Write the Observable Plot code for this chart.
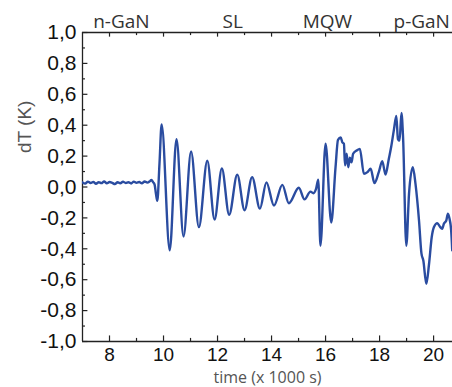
<!DOCTYPE html>
<html>
<head>
<meta charset="utf-8">
<script src="https://cdn.jsdelivr.net/npm/d3@7"></script>
<script src="https://cdn.jsdelivr.net/npm/@observablehq/plot@0.6"></script>
<style>
  html, body { margin: 0; padding: 0; background: #fff; }
  #chart svg { display: block; }
</style>
</head>
<body>
<div id="chart"></div>
<script>
// time in units of 1000 s
const times = [
  7.0, 7.1, 7.2, 7.3, 7.4, 7.5, 7.6, 7.7, 7.8, 7.9,
  8.0, 8.1, 8.2, 8.3, 8.4, 8.5, 8.6, 8.7, 8.8, 8.9,
  9.0, 9.1, 9.2, 9.3, 9.4, 9.5, 9.55, 9.62, 9.67, 9.72, 9.77, 9.85, 9.93,
  10.23, 10.48, 10.74, 11.02, 11.31, 11.62, 11.89, 12.16, 12.43, 12.73,
  13.0, 13.28, 13.57, 13.81, 14.09, 14.40, 14.64, 15.01, 15.22, 15.44,
  15.55, 15.65, 15.73, 15.81, 16.0, 16.21, 16.37, 16.46, 16.56, 16.62,
  16.68, 16.72, 16.78, 16.84, 16.90, 16.96, 17.02, 17.15, 17.27, 17.42,
  17.55, 17.67, 17.81, 17.97, 18.10, 18.22, 18.34, 18.43, 18.53, 18.62,
  18.68, 18.74, 18.81, 18.87, 18.99, 19.09, 19.23, 19.33, 19.46, 19.55,
  19.62, 19.73, 19.83, 19.93, 20.01, 20.14, 20.23, 20.32, 20.38, 20.47,
  20.53, 20.59, 20.65, 20.69
];
// dT in K
const dT = [
  0.030, 0.022, 0.035, 0.026, 0.033, 0.021, 0.031, 0.025, 0.036, 0.024,
  0.032, 0.027, 0.019, 0.031, 0.024, 0.034, 0.026, 0.031, 0.023, 0.035,
  0.027, 0.032, 0.024, 0.036, 0.028, 0.038, 0.045, 0.030, 0.016, -0.044, -0.090, 0.150, 0.405,
  -0.41, 0.31, -0.32, 0.23, -0.26, 0.17, -0.21, 0.12, -0.18, 0.08,
  -0.15, 0.064, -0.14, 0.03, -0.12, 0.014, -0.105, -0.005, -0.08, -0.03,
  -0.04, -0.01, 0.047, -0.38, 0.28, -0.23, 0.13, 0.305, 0.32, 0.29,
  0.28, 0.14, 0.215, 0.128, 0.19, 0.16, 0.215, 0.236, 0.247, 0.085,
  0.096, 0.118, 0.025, 0.096, 0.167, 0.08, 0.18, 0.26, 0.37, 0.46,
  0.31, 0.30, 0.48, 0.32, -0.38, -0.044, 0.128, 0.02, -0.217, -0.43,
  -0.476, -0.627, -0.50, -0.325, -0.26, -0.234, -0.256, -0.27, -0.238, -0.217,
  -0.173, -0.206, -0.28, -0.41
];
const xTickLabels = [8, 10, 12, 14, 16, 18, 20];
const xMinorTicks = [9, 11, 13, 15, 17, 19];
const yTickLabels = [-1.0, -0.8, -0.6, -0.4, -0.2, 0.0, 0.2, 0.4, 0.6, 0.8, 1.0];
const yMinorTicks = [-0.9, -0.7, -0.5, -0.3, -0.1, 0.1, 0.3, 0.5, 0.7, 0.9];
const layerNames = ["n-GaN", "SL", "MQW", "p-GaN"];
const layerPositions = [8.44, 12.56, 16.07, 19.56];

const data = times.map((t, i) => ({t, v: dT[i]}));
const layers = layerNames.map((name, i) => ({name, t: layerPositions[i]}));
const fmt = v => d3.format(".1f")(v).replace(".", ",").replace("−", "-");

const W = 452, H = 387;
const lineColor = "#2a4ca0";
const axisColor = "#222";

const chart = Plot.plot({
  width: W,
  height: H,
  marginLeft: 82,
  marginRight: 0,
  marginTop: 32,
  marginBottom: 46,
  style: {fontFamily: "'Liberation Sans', Arial, sans-serif", background: "#fff", overflow: "visible"},
  x: {domain: [7, 20.7], axis: null},
  y: {domain: [-1, 1], axis: null},
  marks: [
    // frame lines
    Plot.ruleY([-1, 1], {stroke: axisColor, strokeWidth: 1.3}),
    Plot.ruleX([7], {stroke: axisColor, strokeWidth: 1.3}),
    // bottom ticks (inward)
    Plot.ruleX(xTickLabels, {x: d => d, y1: -1, y2: -1 + 0.036, stroke: axisColor, strokeWidth: 1.2}),
    Plot.ruleX(xMinorTicks, {x: d => d, y1: -1, y2: -1 + 0.02, stroke: axisColor, strokeWidth: 1.2}),
    // top ticks (inward)
    Plot.ruleX(xTickLabels, {x: d => d, y1: 1, y2: 1 - 0.03, stroke: axisColor, strokeWidth: 1.2}),
    Plot.ruleX(xMinorTicks, {x: d => d, y1: 1, y2: 1 - 0.02, stroke: axisColor, strokeWidth: 1.2}),
    // left ticks (inward)
    Plot.ruleY(yTickLabels, {y: d => d, x1: 7, x2: 7 + 0.2, stroke: axisColor, strokeWidth: 1.2}),
    Plot.ruleY(yMinorTicks, {y: d => d, x1: 7, x2: 7 + 0.11, stroke: axisColor, strokeWidth: 1.2}),
    // tick labels
    Plot.text(xTickLabels, {x: d => d, y: -1, text: d => String(d), dy: 6, lineAnchor: "top", fontSize: 19, fill: "#111"}),
    Plot.text(yTickLabels, {x: 7, y: d => d, text: fmt, dx: -6, textAnchor: "end", lineAnchor: "middle", fontSize: 21, fill: "#111"}),
    // layer labels on top
    Plot.text(layers, {x: "t", y: 1, text: "name", dy: -5, lineAnchor: "bottom", fontSize: 19, fill: "#333", fontFamily: "'Open Sans', sans-serif"}),
    // axis titles
    Plot.text(["time (x 1000 s)"], {frameAnchor: "bottom", dy: 36, lineAnchor: "middle", fontSize: 16, fill: "#555", fontFamily: "'Open Sans', sans-serif"}),
    Plot.text(["dT (K)"], {frameAnchor: "left", dx: -58, dy: -34, rotate: -90, lineAnchor: "middle", fontSize: 19, fill: "#555", fontFamily: "'Liberation Sans', Arial, sans-serif"}),
    // data line
    Plot.line(data, {x: "t", y: "v", curve: "monotone-x", stroke: lineColor, strokeWidth: 2.4, clip: true})
  ]
});

document.getElementById("chart").appendChild(chart);
</script>
</body>
</html>
